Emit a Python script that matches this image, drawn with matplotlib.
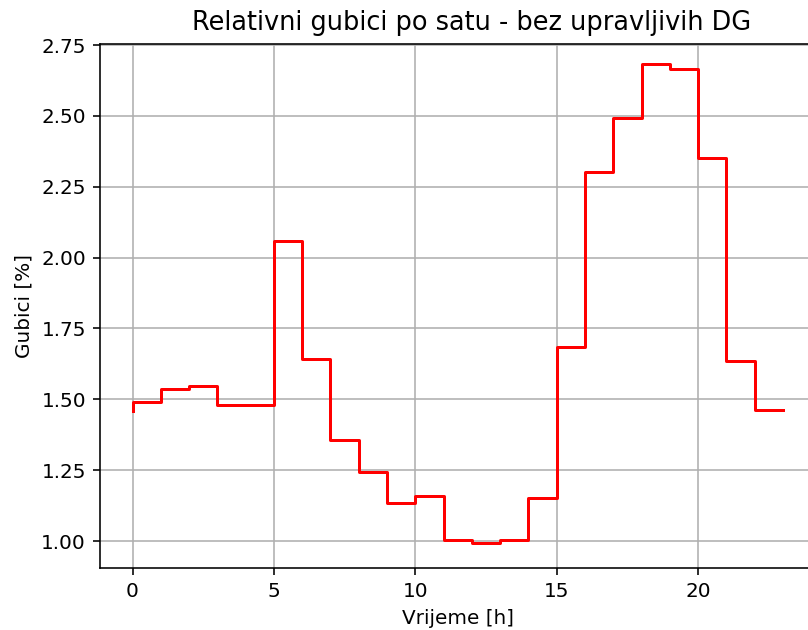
import matplotlib
matplotlib.use("Agg")
import matplotlib.pyplot as plt

# sati i relativni gubici [%]
hours = list(range(24))
losses = [1.46, 1.49, 1.535, 1.547, 1.48, 1.48, 2.057, 1.641, 1.355, 1.245,
          1.135, 1.159, 1.002, 0.992, 1.002, 1.153, 1.683, 2.303, 2.494, 2.682,
          2.666, 2.352, 1.635, 1.462]

DPI = 144
W, H = 808, 630
fig = plt.figure(figsize=(W / DPI, H / DPI), dpi=DPI)
# axes extends past the right edge like in the original crop
ax = fig.add_axes([100 / W, (H - 568.3) / H, 715.5 / W, 524 / H])

ax.step(hours, losses, where='pre', color='r', linewidth=1.5)
ax.set_xlim(-1.15, 24.15)
ax.set_ylim(0.9037, 2.7525)
ax.set_yticks([1.0, 1.25, 1.5, 1.75, 2.0, 2.25, 2.5, 2.75])
ax.grid(True)
ax.set_title("Relativni gubici po satu - bez upravljivih DG", fontsize=12.8,
             x=0.519, pad=7)
ax.set_xlabel("Vrijeme [h]")
ax.set_ylabel("Gubici [%]")

fig.savefig("out.png", dpi=DPI)
